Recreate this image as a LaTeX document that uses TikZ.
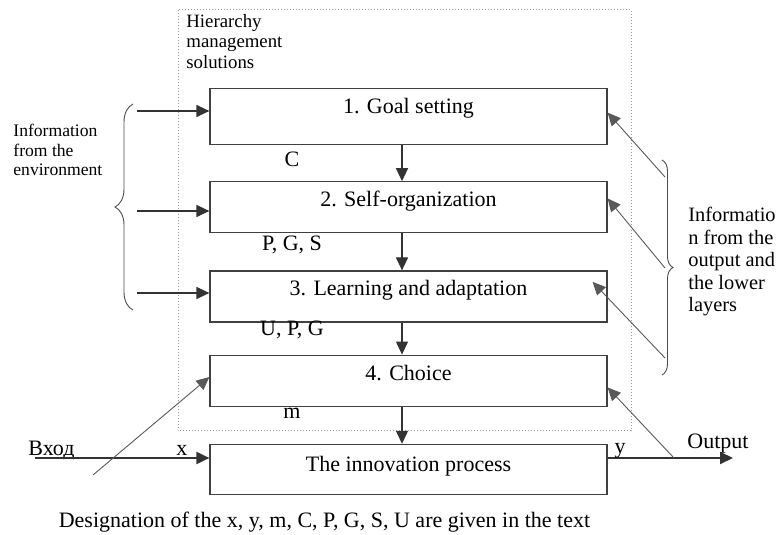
\documentclass[tikz,border=0pt]{standalone}
\usepackage{fontspec}
\setmainfont{Liberation Serif}
\usetikzlibrary{arrows.meta,calc,positioning,decorations.pathreplacing}

\begin{document}
\begin{tikzpicture}[x=.5pt,y=-.5pt,
  blk/.style={draw=black!75,line width=.6pt,minimum width=198.5pt,inner ysep=0pt,
    font=\rmfamily\fontsize{11}{13}\selectfont,text height=12.5pt,text depth=13pt},
  arr/.style={draw=black!80,line width=.6pt,-{Triangle[length=6.5pt,width=6pt]}},
  fb/.style={draw=black!65,line width=.45pt,-{Triangle[length=6.5pt,width=6pt]}},
  lbl/.style={font=\rmfamily\fontsize{11}{13}\selectfont,inner sep=0pt},
  side/.style={align=left,inner sep=0pt},
  brc/.style={draw=black!70,line width=.45pt,decorate,decoration={brace,amplitude=#1}}]
\useasboundingbox (0,0) rectangle (778,535);
\draw[black!40,densely dotted,line width=.5pt] (178,10) rectangle (631,431);
\node[side,anchor=north west,font=\rmfamily\fontsize{9.4}{10.25}\selectfont] (hms) at (186,14)
  {Hierarchy\\management\\solutions};
% levels
\node[blk,anchor=north,text depth=15.5pt] (b1) at (408.5,88) {1. Goal setting};
\node[blk,below=18pt of b1] (b2) {2. Self-organization};
\node[blk,below=18.5pt of b2] (b3) {3. Learning and adaptation};
\node[blk,below=16pt of b3] (b4) {4. Choice};
\node[blk,below=18.5pt of b4,text height=13.5pt,text depth=11.5pt] (b5) {The innovation process};
\foreach \a/\b in {b1/b2,b2/b3,b3/b4,b4/b5}
  \draw[arr] ([xshift=-3.25pt]\a.south) -- ([xshift=-3.25pt]\b.north);
\node[lbl] (c) at (292,159) {C};
\node[lbl] (pgs) at (292,245) {P, G, S};
\node[lbl] (upg) at (292,330) {U, P, G};
\node[lbl] (m) at (292,413) {m};
% environment
\coordinate (e1) at (137,111);
\coordinate (e2) at (137,211);
\coordinate (e3) at (137,293);
\draw[arr] (e1) -- (e1 -| b1.west);
\draw[arr] (e2) -- (e2 -| b2.west);
\draw[arr] (e3) -- (e3 -| b3.west);
\draw[brc=9pt] (133,310) -- (133,104);
\node[side,anchor=west,font=\rmfamily\fontsize{8.8}{9.75}\selectfont] (env) at (13,150)
  {Information\\from the\\environment};
% feedback
\draw[brc=5.5pt] (662,160) -- (662,375);
\node[side,anchor=north west,font=\rmfamily\fontsize{10.2}{11.25}\selectfont] (fbk) at (688,207)
  {Informatio\\n from the\\output and\\the lower\\layers};
\coordinate (f1) at (665,177);
\coordinate (f2) at (665,268);
\coordinate (f3) at (665,358);
\draw[fb] (f1) -- ($(b1.north east)!.43!(b1.south east)$);
\draw[fb] (f2) -- ($(b2.north east)!.33!(b2.south east)$);
\draw[fb] (f3) -- ($(b3.north east)!.22!(b3.south east)+(-15,0)$);
% input and output
\coordinate (in) at (35,458);
\coordinate (out) at (733,458);
\coordinate (t) at (674,458);
\coordinate (d) at (93,475);
\node[lbl,anchor=base west] (vhod) at (28,455) {Вход};
\node[lbl,anchor=base] (x) at (182,455) {x};
\draw[arr,line width=1pt] (in) -- (in -| b5.west);
\draw[fb] (d) -- ($(b4.north west)!.43!(b4.south west)$);
\draw[arr,line width=1pt] (out -| b5.east) -- (out);
\node[lbl,anchor=base] (y) at (620,453) {y};
\node[lbl,anchor=base west] (output) at (687,449) {Output};
\draw[fb] (t) -- ($(b4.north east)!.63!(b4.south east)$);
\node[lbl,anchor=base] (cap) at (324.5,527)
  {Designation of the x, y, m, C, P, G, S, U are given in the text};
\end{tikzpicture}
\end{document}
